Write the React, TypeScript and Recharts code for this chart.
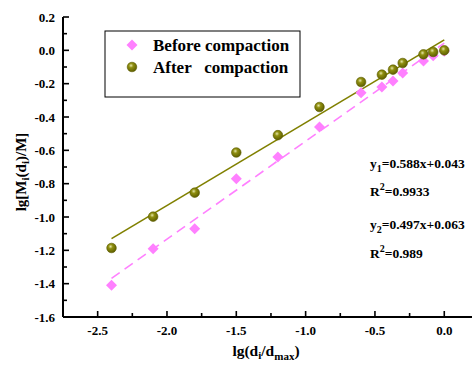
import React from "react"
import { ScatterChart, Scatter, XAxis, YAxis } from "recharts"

const FONT = "Liberation Serif, Times New Roman, DejaVu Serif, serif"

// lg(di/dmax)
const xValues = [-2.4, -2.1, -1.8, -1.5, -1.2, -0.9, -0.6, -0.45, -0.37, -0.3, -0.15, -0.08, 0]
// lg[Mi(di)/M]
const beforeValues = [-1.41, -1.19, -1.07, -0.77, -0.64, -0.46, -0.255, -0.22, -0.184, -0.136, -0.064, -0.032, -0.005]
const afterValues = [-1.186, -0.998, -0.854, -0.613, -0.509, -0.34, -0.19, -0.146, -0.116, -0.076, -0.024, -0.01, 0]

// fitted lines printed on the chart
const fitRange = [-2.4, 0]
const fitBefore = { k: 0.588, b: 0.043 }
const fitAfter = { k: 0.497, b: 0.063 }

const xTicks = [-2.75, -2.5, -2.25, -2.0, -1.75, -1.5, -1.25, -1.0, -0.75, -0.5, -0.25, 0.0]
const yTicks = [-1.6, -1.5, -1.4, -1.3, -1.2, -1.1, -1.0, -0.9, -0.8, -0.7, -0.6, -0.5, -0.4, -0.3, -0.2, -0.1, 0.0, 0.1, 0.2]

const beforeData = xValues.map((x, i) => ({ x, y: beforeValues[i] }))
const afterData = xValues.map((x, i) => ({ x, y: afterValues[i] }))
const beforeLine = fitRange.map((x) => ({ x, y: fitBefore.k * x + fitBefore.b }))
const afterLine = fitRange.map((x) => ({ x, y: fitAfter.k * x + fitAfter.b }))

const PINK = "#ff80ff"
const OLIVE = "#808000"
const txt = { fontFamily: FONT, fontWeight: 700 }

const isMajor = (v: number, step: number) => Math.abs(v / step - Math.round(v / step)) < 1e-6

function XTick({ x, y, payload }: any) {
  const major = isMajor(payload.value, 0.5)
  return (
    <g>
      <line x1={x} x2={x} y1={y} y2={y - (major ? 6 : 4)} stroke="#000" strokeWidth={1.6} />
      {major && (
        <text x={x} y={y + 18} textAnchor="middle" style={{ ...txt, fontSize: 13 }} fill="#000">
          {payload.value.toFixed(1)}
        </text>
      )}
    </g>
  )
}

function YTick({ x, y, payload }: any) {
  const major = isMajor(payload.value, 0.2)
  return (
    <g>
      <line x1={x} x2={x + (major ? 6 : 4)} y1={y} y2={y} stroke="#000" strokeWidth={1.6} />
      {major && (
        <text x={x - 8} y={y + 4.5} textAnchor="end" style={{ ...txt, fontSize: 13 }} fill="#000">
          {payload.value.toFixed(1)}
        </text>
      )}
    </g>
  )
}

function Diamond({ cx, cy }: any) {
  const r = 5.5
  return <polygon points={`${cx},${cy - r} ${cx + r},${cy} ${cx},${cy + r} ${cx - r},${cy}`} fill={PINK} />
}

function Ball({ cx, cy }: any) {
  return <circle cx={cx} cy={cy} r={4.8} fill="url(#ballGrad)" stroke="#5c5c00" strokeWidth={0.6} />
}

const noShape = () => <g />

export default function App() {
  return (
    <div style={{ position: "absolute", left: 0, top: 0, width: 472, height: 368, background: "#fff" }}>
      <svg width={0} height={0} style={{ position: "absolute" }}>
        <defs>
          <radialGradient id="ballGrad" cx="40%" cy="35%" r="65%">
            <stop offset="0%" stopColor="#e6e6a8" />
            <stop offset="35%" stopColor="#8f8f10" />
            <stop offset="100%" stopColor="#5e5e00" />
          </radialGradient>
        </defs>
      </svg>
      <ScatterChart width={472} height={368} margin={{ top: 17, right: 0, bottom: 0, left: 0 }}>
        <XAxis
          type="number"
          dataKey="x"
          domain={[-2.75, 0.2]}
          ticks={xTicks}
          interval={0}
          height={51}
          tickSize={0}
          tickMargin={0}
          tick={<XTick />}
          axisLine={{ stroke: "#000", strokeWidth: 2 }}
          allowDataOverflow
        />
        <YAxis
          type="number"
          dataKey="y"
          domain={[-1.6, 0.2]}
          ticks={yTicks}
          interval={0}
          width={63}
          tickSize={0}
          tickMargin={0}
          tick={<YTick />}
          axisLine={{ stroke: "#000", strokeWidth: 2 }}
          allowDataOverflow
        />
        <Scatter
          data={beforeLine}
          line={{ stroke: PINK, strokeWidth: 1.6, strokeDasharray: "10 6" }}
          shape={noShape}
          isAnimationActive={false}
        />
        <Scatter
          data={afterLine}
          line={{ stroke: OLIVE, strokeWidth: 1.6 }}
          shape={noShape}
          isAnimationActive={false}
        />
        <Scatter data={beforeData} shape={<Diamond />} isAnimationActive={false} />
        <Scatter data={afterData} shape={<Ball />} isAnimationActive={false} />
      </ScatterChart>

      <svg
        width={472}
        height={368}
        style={{ position: "absolute", left: 0, top: 0, pointerEvents: "none", ...txt }}
      >
        {/* legend */}
        <rect x={105} y={31} width={195} height={66} fill="#fff" stroke="#000" strokeWidth={1} />
        <polygon points="132,39.5 137.5,45 132,50.5 126.5,45" fill={PINK} />
        <text x={153} y={51} style={{ fontSize: 17 }}>Before compaction</text>
        <circle cx={132} cy={67} r={4.8} fill="url(#ballGrad)" stroke="#5c5c00" strokeWidth={0.6} />
        <text x={153} y={73} style={{ fontSize: 17, whiteSpace: "pre" }}>After   compaction</text>

        {/* fit annotations */}
        <text x={370} y={168} style={{ fontSize: 13.5 }}>
          y<tspan style={{ fontSize: 10 }} dy={4}>1</tspan>
          <tspan dy={-4}>=0.588x+0.043</tspan>
        </text>
        <text x={370} y={196} style={{ fontSize: 13.5 }}>
          R<tspan style={{ fontSize: 10 }} dy={-6}>2</tspan>
          <tspan dy={6}>=0.9933</tspan>
        </text>
        <text x={370} y={229} style={{ fontSize: 13.5 }}>
          y<tspan style={{ fontSize: 10 }} dy={4}>2</tspan>
          <tspan dy={-4}>=0.497x+0.063</tspan>
        </text>
        <text x={370} y={258} style={{ fontSize: 13.5 }}>
          R<tspan style={{ fontSize: 10 }} dy={-6}>2</tspan>
          <tspan dy={6}>=0.989</tspan>
        </text>

        {/* axis titles */}
        <text x={266} y={356} textAnchor="middle" style={{ fontSize: 15.5 }}>
          lg(d<tspan style={{ fontSize: 11 }} dy={3}>i</tspan>
          <tspan dy={-3}>/d</tspan>
          <tspan style={{ fontSize: 11 }} dy={4}>max</tspan>
          <tspan dy={-4}>)</tspan>
        </text>
        <text x={26} y={172} textAnchor="middle" transform="rotate(-90 26 172)" style={{ fontSize: 15 }}>
          lg[M<tspan style={{ fontSize: 11 }} dy={3}>i</tspan>
          <tspan dy={-3}>(d</tspan>
          <tspan style={{ fontSize: 11 }} dy={3}>i</tspan>
          <tspan dy={-3}>)/M]</tspan>
        </text>
      </svg>
    </div>
  )
}
